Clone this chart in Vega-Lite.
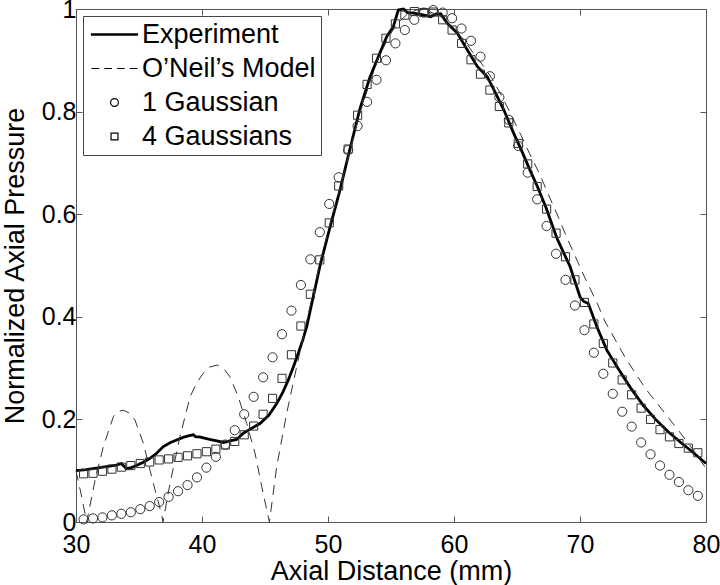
{
  "$schema": "https://vega.github.io/schema/vega-lite/v6.json",
  "width": 630,
  "height": 513,
  "autosize": {"type": "none"},
  "padding": {"left": 76, "top": 9, "right": 14, "bottom": 63},
  "background": "white",
  "config": {
    "font": "Liberation Sans",
    "view": {"stroke": null},
    "axis": {
      "domainColor": "#555",
      "tickColor": "#555",
      "grid": false,
      "labelFontSize": 25,
      "titleFontSize": 27,
      "labelColor": "black",
      "titleColor": "black",
      "titleFontWeight": "normal",
      "tickSize": -6,
      "labelFont": "Liberation Sans",
      "titleFont": "Liberation Sans",
      "labelFlush": false,
      "labelOverlap": false
    }
  },
  "datasets": {
    "exp": [
      {"x": 30.0, "y": 0.100}, {"x": 30.8, "y": 0.102}, {"x": 31.6, "y": 0.105}, {"x": 32.4, "y": 0.108},
      {"x": 33.2, "y": 0.111}, {"x": 33.6, "y": 0.114}, {"x": 33.75, "y": 0.110}, {"x": 34.0, "y": 0.104},
      {"x": 34.4, "y": 0.106}, {"x": 34.8, "y": 0.110}, {"x": 35.3, "y": 0.116}, {"x": 35.87, "y": 0.124},
      {"x": 36.4, "y": 0.134}, {"x": 36.93, "y": 0.147}, {"x": 37.5, "y": 0.155}, {"x": 37.99, "y": 0.160},
      {"x": 38.5, "y": 0.165}, {"x": 38.91, "y": 0.168}, {"x": 39.31, "y": 0.170}, {"x": 39.5, "y": 0.166},
      {"x": 39.8, "y": 0.166}, {"x": 40.11, "y": 0.164}, {"x": 40.6, "y": 0.161}, {"x": 41.17, "y": 0.158},
      {"x": 41.72, "y": 0.155}, {"x": 42.2, "y": 0.158}, {"x": 42.75, "y": 0.161}, {"x": 43.28, "y": 0.173},
      {"x": 43.9, "y": 0.182}, {"x": 44.6, "y": 0.192}, {"x": 45.3, "y": 0.208}, {"x": 45.93, "y": 0.231},
      {"x": 46.4, "y": 0.252}, {"x": 46.85, "y": 0.277}, {"x": 47.25, "y": 0.302}, {"x": 47.64, "y": 0.329},
      {"x": 48.0, "y": 0.355}, {"x": 48.31, "y": 0.381}, {"x": 48.83, "y": 0.439}, {"x": 49.37, "y": 0.500},
      {"x": 50.16, "y": 0.575}, {"x": 50.95, "y": 0.647}, {"x": 51.75, "y": 0.728}, {"x": 52.54, "y": 0.806},
      {"x": 53.3, "y": 0.865}, {"x": 54.13, "y": 0.915}, {"x": 54.66, "y": 0.946}, {"x": 55.19, "y": 0.966},
      {"x": 55.58, "y": 0.998}, {"x": 56.0, "y": 1.0}, {"x": 56.3, "y": 0.993}, {"x": 56.83, "y": 0.992},
      {"x": 57.62, "y": 0.988}, {"x": 58.15, "y": 0.985}, {"x": 58.55, "y": 0.990}, {"x": 58.94, "y": 0.991},
      {"x": 59.47, "y": 0.972}, {"x": 60.26, "y": 0.953}, {"x": 61.06, "y": 0.920}, {"x": 61.85, "y": 0.888},
      {"x": 62.64, "y": 0.868}, {"x": 63.3, "y": 0.836}, {"x": 63.96, "y": 0.803}, {"x": 64.75, "y": 0.757},
      {"x": 65.4, "y": 0.722}, {"x": 66.03, "y": 0.686}, {"x": 66.6, "y": 0.655}, {"x": 67.3, "y": 0.613},
      {"x": 68.17, "y": 0.553}, {"x": 69.21, "y": 0.498}, {"x": 70.0, "y": 0.439}, {"x": 70.3, "y": 0.430},
      {"x": 70.66, "y": 0.426}, {"x": 71.33, "y": 0.381}, {"x": 72.13, "y": 0.335}, {"x": 73.0, "y": 0.300},
      {"x": 74.0, "y": 0.262}, {"x": 75.0, "y": 0.228}, {"x": 76.0, "y": 0.200}, {"x": 77.0, "y": 0.176},
      {"x": 78.0, "y": 0.155}, {"x": 79.0, "y": 0.135}, {"x": 80.0, "y": 0.114}
    ],
    "oneil": [
      {"x": 30.0, "y": 0.100}, {"x": 30.4, "y": 0.055}, {"x": 30.85, "y": 0.0}, {"x": 31.52, "y": 0.082},
      {"x": 32.17, "y": 0.147}, {"x": 32.96, "y": 0.205}, {"x": 33.3, "y": 0.215}, {"x": 33.75, "y": 0.218},
      {"x": 34.2, "y": 0.213}, {"x": 34.68, "y": 0.199}, {"x": 35.35, "y": 0.153}, {"x": 36.14, "y": 0.075},
      {"x": 36.8, "y": 0.014}, {"x": 36.9, "y": 0.0}, {"x": 37.46, "y": 0.075}, {"x": 38.25, "y": 0.166},
      {"x": 39.05, "y": 0.244}, {"x": 39.6, "y": 0.272}, {"x": 40.1, "y": 0.290}, {"x": 40.6, "y": 0.302},
      {"x": 41.2, "y": 0.306}, {"x": 41.7, "y": 0.300}, {"x": 42.22, "y": 0.283}, {"x": 42.88, "y": 0.244},
      {"x": 43.55, "y": 0.192}, {"x": 44.21, "y": 0.134}, {"x": 44.74, "y": 0.069}, {"x": 45.35, "y": 0.0},
      {"x": 45.93, "y": 0.108}, {"x": 46.72, "y": 0.212}, {"x": 47.52, "y": 0.303}, {"x": 48.04, "y": 0.361},
      {"x": 48.57, "y": 0.420}, {"x": 49.4, "y": 0.510}, {"x": 50.2, "y": 0.585}, {"x": 51.0, "y": 0.655},
      {"x": 51.8, "y": 0.730}, {"x": 52.5, "y": 0.795}, {"x": 53.3, "y": 0.855}, {"x": 54.0, "y": 0.905},
      {"x": 54.8, "y": 0.945}, {"x": 55.5, "y": 0.972}, {"x": 56.3, "y": 0.990}, {"x": 57.0, "y": 0.998},
      {"x": 57.7, "y": 0.999}, {"x": 58.5, "y": 0.990}, {"x": 59.3, "y": 0.975}, {"x": 60.0, "y": 0.960},
      {"x": 60.8, "y": 0.940}, {"x": 61.5, "y": 0.915}, {"x": 62.3, "y": 0.890}, {"x": 63.0, "y": 0.865},
      {"x": 63.8, "y": 0.830}, {"x": 64.5, "y": 0.795}, {"x": 65.3, "y": 0.755}, {"x": 66.0, "y": 0.718},
      {"x": 66.8, "y": 0.678}, {"x": 67.5, "y": 0.638}, {"x": 68.3, "y": 0.593}, {"x": 69.0, "y": 0.552},
      {"x": 69.8, "y": 0.508}, {"x": 70.5, "y": 0.470}, {"x": 71.3, "y": 0.430}, {"x": 72.0, "y": 0.390},
      {"x": 72.8, "y": 0.355}, {"x": 73.6, "y": 0.320}, {"x": 74.4, "y": 0.290}, {"x": 75.2, "y": 0.260},
      {"x": 76.0, "y": 0.235}, {"x": 76.8, "y": 0.210}, {"x": 77.6, "y": 0.185}, {"x": 78.4, "y": 0.160},
      {"x": 79.2, "y": 0.133}, {"x": 80.0, "y": 0.104}
    ],
    "fits": [
      {"x": 30.6, "1 Gaussian": 0.005, "4 Gaussians": 0.094},
      {"x": 31.35, "1 Gaussian": 0.007, "4 Gaussians": 0.095},
      {"x": 32.1, "1 Gaussian": 0.009, "4 Gaussians": 0.099},
      {"x": 32.85, "1 Gaussian": 0.013, "4 Gaussians": 0.103},
      {"x": 33.6, "1 Gaussian": 0.016, "4 Gaussians": 0.107},
      {"x": 34.35, "1 Gaussian": 0.019, "4 Gaussians": 0.110},
      {"x": 35.1, "1 Gaussian": 0.025, "4 Gaussians": 0.114},
      {"x": 35.85, "1 Gaussian": 0.031, "4 Gaussians": 0.117},
      {"x": 36.6, "1 Gaussian": 0.039, "4 Gaussians": 0.121},
      {"x": 37.35, "1 Gaussian": 0.049, "4 Gaussians": 0.123},
      {"x": 38.1, "1 Gaussian": 0.060, "4 Gaussians": 0.126},
      {"x": 38.85, "1 Gaussian": 0.072, "4 Gaussians": 0.129},
      {"x": 39.6, "1 Gaussian": 0.087, "4 Gaussians": 0.133},
      {"x": 40.35, "1 Gaussian": 0.106, "4 Gaussians": 0.137},
      {"x": 41.1, "1 Gaussian": 0.127, "4 Gaussians": 0.142},
      {"x": 41.85, "1 Gaussian": 0.151, "4 Gaussians": 0.150},
      {"x": 42.6, "1 Gaussian": 0.179, "4 Gaussians": 0.157},
      {"x": 43.35, "1 Gaussian": 0.210, "4 Gaussians": 0.170},
      {"x": 44.1, "1 Gaussian": 0.244, "4 Gaussians": 0.187},
      {"x": 44.85, "1 Gaussian": 0.282, "4 Gaussians": 0.210},
      {"x": 45.6, "1 Gaussian": 0.321, "4 Gaussians": 0.241},
      {"x": 46.35, "1 Gaussian": 0.366, "4 Gaussians": 0.280},
      {"x": 47.1, "1 Gaussian": 0.412, "4 Gaussians": 0.326},
      {"x": 47.85, "1 Gaussian": 0.462, "4 Gaussians": 0.382},
      {"x": 48.6, "1 Gaussian": 0.512, "4 Gaussians": 0.444},
      {"x": 49.35, "1 Gaussian": 0.565, "4 Gaussians": 0.511},
      {"x": 50.1, "1 Gaussian": 0.620, "4 Gaussians": 0.583},
      {"x": 50.85, "1 Gaussian": 0.672, "4 Gaussians": 0.655},
      {"x": 51.6, "1 Gaussian": 0.725, "4 Gaussians": 0.727},
      {"x": 52.35, "1 Gaussian": 0.772, "4 Gaussians": 0.793},
      {"x": 53.1, "1 Gaussian": 0.819, "4 Gaussians": 0.853},
      {"x": 53.85, "1 Gaussian": 0.862, "4 Gaussians": 0.904},
      {"x": 54.6, "1 Gaussian": 0.900, "4 Gaussians": 0.943},
      {"x": 55.35, "1 Gaussian": 0.933, "4 Gaussians": 0.971},
      {"x": 56.1, "1 Gaussian": 0.959, "4 Gaussians": 0.988},
      {"x": 56.85, "1 Gaussian": 0.979, "4 Gaussians": 0.995},
      {"x": 57.6, "1 Gaussian": 0.993, "4 Gaussians": 0.993},
      {"x": 58.35, "1 Gaussian": 0.998, "4 Gaussians": 0.994},
      {"x": 59.1, "1 Gaussian": 0.993, "4 Gaussians": 0.979},
      {"x": 59.85, "1 Gaussian": 0.982, "4 Gaussians": 0.959},
      {"x": 60.6, "1 Gaussian": 0.962, "4 Gaussians": 0.933},
      {"x": 61.35, "1 Gaussian": 0.938, "4 Gaussians": 0.901},
      {"x": 62.1, "1 Gaussian": 0.907, "4 Gaussians": 0.873},
      {"x": 62.85, "1 Gaussian": 0.869, "4 Gaussians": 0.842},
      {"x": 63.6, "1 Gaussian": 0.828, "4 Gaussians": 0.810},
      {"x": 64.35, "1 Gaussian": 0.784, "4 Gaussians": 0.778},
      {"x": 65.1, "1 Gaussian": 0.733, "4 Gaussians": 0.738},
      {"x": 65.85, "1 Gaussian": 0.681, "4 Gaussians": 0.698},
      {"x": 66.6, "1 Gaussian": 0.629, "4 Gaussians": 0.654},
      {"x": 67.35, "1 Gaussian": 0.577, "4 Gaussians": 0.610},
      {"x": 68.1, "1 Gaussian": 0.523, "4 Gaussians": 0.563},
      {"x": 68.85, "1 Gaussian": 0.472, "4 Gaussians": 0.517},
      {"x": 69.6, "1 Gaussian": 0.422, "4 Gaussians": 0.472},
      {"x": 70.35, "1 Gaussian": 0.374, "4 Gaussians": 0.428},
      {"x": 71.1, "1 Gaussian": 0.330, "4 Gaussians": 0.386},
      {"x": 71.85, "1 Gaussian": 0.289, "4 Gaussians": 0.348},
      {"x": 72.6, "1 Gaussian": 0.250, "4 Gaussians": 0.310},
      {"x": 73.35, "1 Gaussian": 0.215, "4 Gaussians": 0.277},
      {"x": 74.1, "1 Gaussian": 0.186, "4 Gaussians": 0.248},
      {"x": 74.85, "1 Gaussian": 0.155, "4 Gaussians": 0.222},
      {"x": 75.6, "1 Gaussian": 0.132, "4 Gaussians": 0.200},
      {"x": 76.35, "1 Gaussian": 0.110, "4 Gaussians": 0.180},
      {"x": 77.1, "1 Gaussian": 0.092, "4 Gaussians": 0.166},
      {"x": 77.85, "1 Gaussian": 0.078, "4 Gaussians": 0.153},
      {"x": 78.6, "1 Gaussian": 0.062, "4 Gaussians": 0.144},
      {"x": 79.35, "1 Gaussian": 0.051, "4 Gaussians": 0.135}
    ]
  },
  "layer": [
    {
      "data": {"name": "exp"},
      "mark": {"type": "line", "color": "black", "strokeWidth": 2.8},
      "encoding": {
        "x": {"field": "x", "type": "quantitative", "scale": {"domain": [30, 80], "nice": false, "zero": false},
          "axis": {"orient": "bottom", "values": [30, 40, 50, 60, 70, 80], "title": "Axial Distance (mm)", "labelPadding": 16, "titlePadding": 1}},
        "y": {"field": "y", "type": "quantitative", "scale": {"domain": [0, 1], "nice": false},
          "axis": {"orient": "left", "values": [0, 0.2, 0.4, 0.6, 0.8, 1], "format": "~g", "title": "Normalized Axial Pressure", "labelPadding": 6, "titlePadding": 12}}
      }
    },
    {
      "data": {"name": "oneil"},
      "mark": {"type": "line", "color": "#333", "strokeWidth": 1, "strokeDash": [10, 7]},
      "encoding": {
        "x": {"field": "x", "type": "quantitative",
          "axis": {"orient": "top", "values": [30, 40, 50, 60, 70, 80], "labels": false, "title": null}},
        "y": {"field": "y", "type": "quantitative",
          "axis": {"orient": "right", "values": [0, 0.2, 0.4, 0.6, 0.8, 1], "labels": false, "title": null}}
      }
    },
    {
      "data": {"name": "fits"},
      "transform": [{"fold": ["1 Gaussian", "4 Gaussians"], "as": ["series", "v"]}],
      "mark": {"type": "point", "filled": false, "size": 557, "strokeWidth": 1, "color": "#333", "opacity": 1},
      "encoding": {
        "x": {"field": "x", "type": "quantitative", "axis": null},
        "y": {"field": "v", "type": "quantitative", "axis": null},
        "shape": {
          "field": "series", "type": "nominal",
          "scale": {
            "domain": ["Experiment", "O’Neil’s Model", "1 Gaussian", "4 Gaussians"],
            "range": [
              "M-2.3,-0.06H2.3V0.06H-2.3Z",
              "M-2.3,0H-1.52M-1.01,0H-0.25M0.25,0H1.01M1.52,0H2.3",
              "M0.39,0A0.39,0.39,0,1,1,-0.39,0A0.39,0.39,0,1,1,0.39,0Z",
              "M-0.345,-0.345H0.345V0.345H-0.345Z"
            ]
          },
          "legend": {
            "title": null, "orient": "top-left", "offset": 7, "padding": 5,
            "fillColor": "white", "strokeColor": "#444", "cornerRadius": 0,
            "labelFontSize": 27, "labelFont": "Liberation Sans", "labelColor": "black", "labelLimit": 0,
            "symbolSize": 400, "symbolStrokeColor": "black", "symbolStrokeWidth": 1.2,
            "symbolFillColor": "transparent", "symbolOffset": 13, "labelOffset": 14, "rowPadding": 6
          }
        }
      }
    }
  ],
  "resolve": {"axis": {"x": "independent", "y": "independent"}}
}
